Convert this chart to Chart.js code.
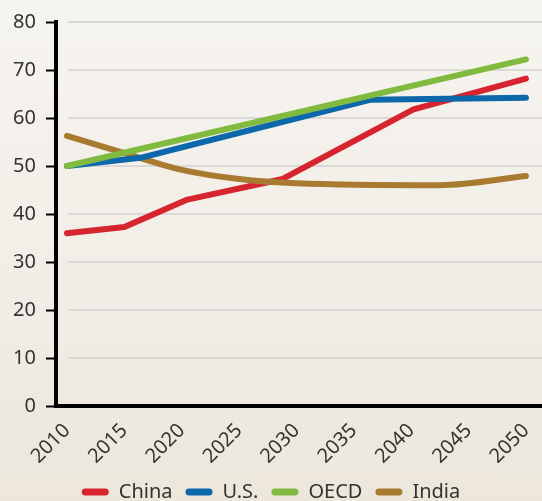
<!DOCTYPE html>
<html>
<head>
<meta charset="utf-8">
<script src="https://cdn.jsdelivr.net/npm/chart.js@4"></script>
<style>
  html, body { margin: 0; padding: 0; }
  body {
    width: 542px; height: 501px; overflow: hidden;
    background: linear-gradient(to bottom, #f6f4f0 0%, #f1ede6 60%, #ece6db 100%);
  }
  #wrap { position: relative; width: 542px; height: 501px; }
</style>
</head>
<body>
<div id="wrap"><canvas id="chart"></canvas></div>
<script>
const xTicks = [2010, 2015, 2020, 2025, 2030, 2035, 2040, 2045, 2050];
const yTicks = [0, 10, 20, 30, 40, 50, 60, 70, 80];

const chinaYears = [2010, 2015, 2020.5, 2028.8, 2040.2, 2050];
const chinaValues = [36.0, 37.3, 43.0, 47.3, 61.8, 68.2];

const usYears = [2010, 2016.4, 2036.4, 2050];
const usValues = [50.0, 51.7, 63.8, 64.2];

const oecdYears = [2010, 2050];
const oecdValues = [50.0, 72.2];

const indiaYears = [2010, 2015, 2020, 2025, 2030, 2042.5, 2050];
const indiaValues = [56.3, 52.7, 49.2, 47.3, 46.4, 46.0, 47.9];

const FONT = "'Noto Sans', Roboto, sans-serif";

const pts = (xs, ys) => xs.map((x, i) => ({ x: x, y: ys[i] }));

const line = (label, xs, ys, color, order, extra) => Object.assign({
    label: label,
    data: pts(xs, ys),
    borderColor: color,
    backgroundColor: color,
    borderWidth: 6,
    borderCapStyle: 'round',
    borderJoinStyle: 'round',
    pointRadius: 0,
    tension: 0,
    fill: false,
    order: order
}, extra || {});

// light grey grid, starting a little right of the y axis
const gridPlugin = {
    id: 'softGrid',
    beforeDatasetsDraw(chart) {
        const { ctx, chartArea, scales } = chart;
        ctx.save();
        ctx.strokeStyle = '#dad9d6';
        ctx.lineWidth = 2;
        yTicks.filter(v => v > 0).forEach(v => {
            const y = Math.round(scales.y.getPixelForValue(v));
            ctx.beginPath();
            ctx.moveTo(chartArea.left + 12, y);
            ctx.lineTo(chartArea.right, y);
            ctx.stroke();
        });
        ctx.restore();
    }
};

new Chart(document.getElementById('chart'), {
    type: 'line',
    data: {
        datasets: [
            line('China', chinaYears, chinaValues, '#d7252f', 3),
            line('U.S.', usYears, usValues, '#0c67ab', 1),
            line('OECD', oecdYears, oecdValues, '#80bb3f', 0),
            line('India', indiaYears, indiaValues, '#a97b31', 2, { cubicInterpolationMode: 'monotone' })
        ]
    },
    plugins: [gridPlugin],
    options: {
        responsive: true,
        maintainAspectRatio: false,
        animation: false,
        layout: { padding: { top: 18, right: 0, left: 0, bottom: -11 } },
        plugins: {
            tooltip: { enabled: false },
            legend: {
                position: 'bottom',
                labels: {
                    sort: (a, b) => a.datasetIndex - b.datasetIndex,
                    boxWidth: 27,
                    boxHeight: 7,
                    useBorderRadius: true,
                    borderRadius: 3.5,
                    padding: 13,
                    color: '#333333',
                    font: { family: FONT, size: 20 },
                    generateLabels(chart) {
                        return Chart.defaults.plugins.legend.labels.generateLabels(chart)
                            .map(l => Object.assign(l, { lineWidth: 0, fillStyle: l.strokeStyle }));
                    }
                }
            }
        },
        scales: {
            x: {
                type: 'linear',
                min: 2009.04,
                max: 2051.4,
                afterBuildTicks(scale) { scale.ticks = xTicks.map(v => ({ value: v })); },
                afterFit(scale) {
                    scale.height = 63;
                    scale.paddingLeft = 0;
                    scale.paddingRight = 0;
                },
                grid: { display: false, drawTicks: false },
                border: { display: true, color: '#000000', width: 4 },
                ticks: {
                    autoSkip: false,
                    minRotation: 45,
                    maxRotation: 45,
                    padding: 13,
                    color: '#333333',
                    font: { family: FONT, size: 20 },
                    callback: v => String(v)
                }
            },
            y: {
                min: 0,
                max: 80,
                afterBuildTicks(scale) { scale.ticks = yTicks.map(v => ({ value: v })); },
                afterFit(scale) { scale.width = 56; },
                grid: {
                    display: true,
                    drawOnChartArea: false,
                    drawTicks: true,
                    tickLength: 10,
                    tickWidth: 2,
                    tickColor: '#000000'
                },
                border: { display: true, color: '#000000', width: 4 },
                ticks: {
                    padding: 10,
                    color: '#333333',
                    font: { family: FONT, size: 20 }
                }
            }
        }
    }
});
</script>
</body>
</html>
